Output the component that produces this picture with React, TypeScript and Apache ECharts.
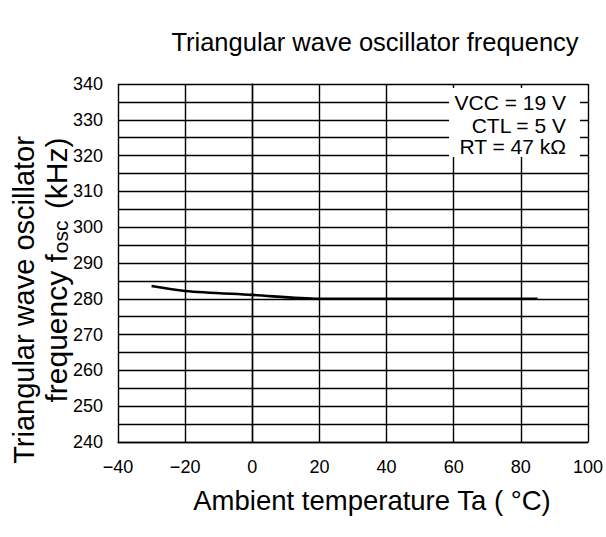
import React, { useEffect, useRef } from "react";
import * as echarts from "echarts";

const temperatures = [-30, -20, 0, 20, 40, 60, 85];
const frequencies = [283.6, 282.2, 281.1, 280.0, 280.0, 280.0, 280.0];
const conditions = ["VCC = 19 V", "CTL = 5 V", "RT = 47 kΩ"];
const titleText = "Triangular wave oscillator frequency";
const xName = "Ambient temperature Ta ( °C)";
const yNameLine1 = "Triangular wave oscillator";
const yNameLine2 = "frequency f{sub|osc} (kHz)";

const FONT = '"Liberation Sans", Arial, Helvetica, sans-serif';

export default function App() {
  const ref = useRef<HTMLDivElement>(null);
  useEffect(() => {
    if (!ref.current) return;
    const chart = echarts.init(ref.current, null, { renderer: "svg" });
    chart.setOption({
      animation: false,
      backgroundColor: "#ffffff",
      textStyle: { fontFamily: FONT },
      grid: { left: 118, right: 18, top: 84, bottom: 95, containLabel: false },
      xAxis: {
        type: "value",
        min: -40,
        max: 100,
        interval: 20,
        axisLine: { show: true, lineStyle: { color: "#000", width: 1.4 } },
        axisTick: { show: false },
        splitLine: { show: true, lineStyle: { color: "#000", width: 1.4 } },
        axisLabel: {
          color: "#000",
          fontSize: 18,
          fontFamily: FONT,
          margin: 16,
          formatter: (v: number) => (v < 0 ? "\u2212" + Math.abs(v) : String(v)),
        },
      },
      yAxis: {
        type: "value",
        min: 240,
        max: 340,
        interval: 5,
        axisLine: { show: true, lineStyle: { color: "#000", width: 1.4 } },
        axisTick: { show: false },
        splitLine: { show: true, lineStyle: { color: "#000", width: 1.4 } },
        axisLabel: {
          color: "#000",
          fontSize: 18,
          fontFamily: FONT,
          margin: 15,
          formatter: (v: number) => (v % 10 === 0 ? String(v) : ""),
        },
      },
      series: [
        {
          type: "line",
          data: temperatures.map((t, i) => [t, frequencies[i]]),
          showSymbol: false,
          smooth: 0.3,
          lineStyle: { color: "#000", width: 2.6 },
          z: 5,
        },
      ],
      graphic: [
        {
          type: "rect",
          shape: { x: 449, y: 88, width: 131, height: 69 },
          style: { fill: "#ffffff" },
          z: 50,
        },
        ...conditions.map((c, i) => ({
          type: "text",
          x: 566,
          y: [102, 125, 146][i],
          z: 51,
          style: {
            text: c,
            fill: "#000",
            font: `21px ${FONT}`,
            textAlign: "right",
            textVerticalAlign: "middle",
          },
        })),
        {
          type: "text",
          x: 375,
          y: 42,
          style: {
            text: titleText,
            fill: "#000",
            font: `25.5px ${FONT}`,
            textAlign: "center",
            textVerticalAlign: "middle",
          },
        },
        {
          type: "text",
          x: 372,
          y: 500,
          style: {
            text: xName,
            fill: "#000",
            font: `27.5px ${FONT}`,
            textAlign: "center",
            textVerticalAlign: "middle",
          },
        },
        {
          type: "text",
          x: 24,
          y: 300,
          rotation: Math.PI / 2,
          style: {
            text: yNameLine1,
            fill: "#000",
            font: `29px ${FONT}`,
            textAlign: "center",
            textVerticalAlign: "middle",
          },
        },
        {
          type: "text",
          x: 56,
          y: 270,
          rotation: Math.PI / 2,
          style: {
            text: yNameLine2,
            fill: "#000",
            font: `30px ${FONT}`,
            textAlign: "center",
            textVerticalAlign: "middle",
            rich: {
              sub: {
                fontSize: 21,
                fontFamily: FONT,
                fill: "#000",
                verticalAlign: "bottom",
                padding: [9, 3, 0, 1],
              },
            },
          },
        },
      ],
    });
    return () => chart.dispose();
  }, []);
  return <div ref={ref} style={{ width: 606, height: 537, position: "absolute", left: 0, top: 0 }} />;
}
